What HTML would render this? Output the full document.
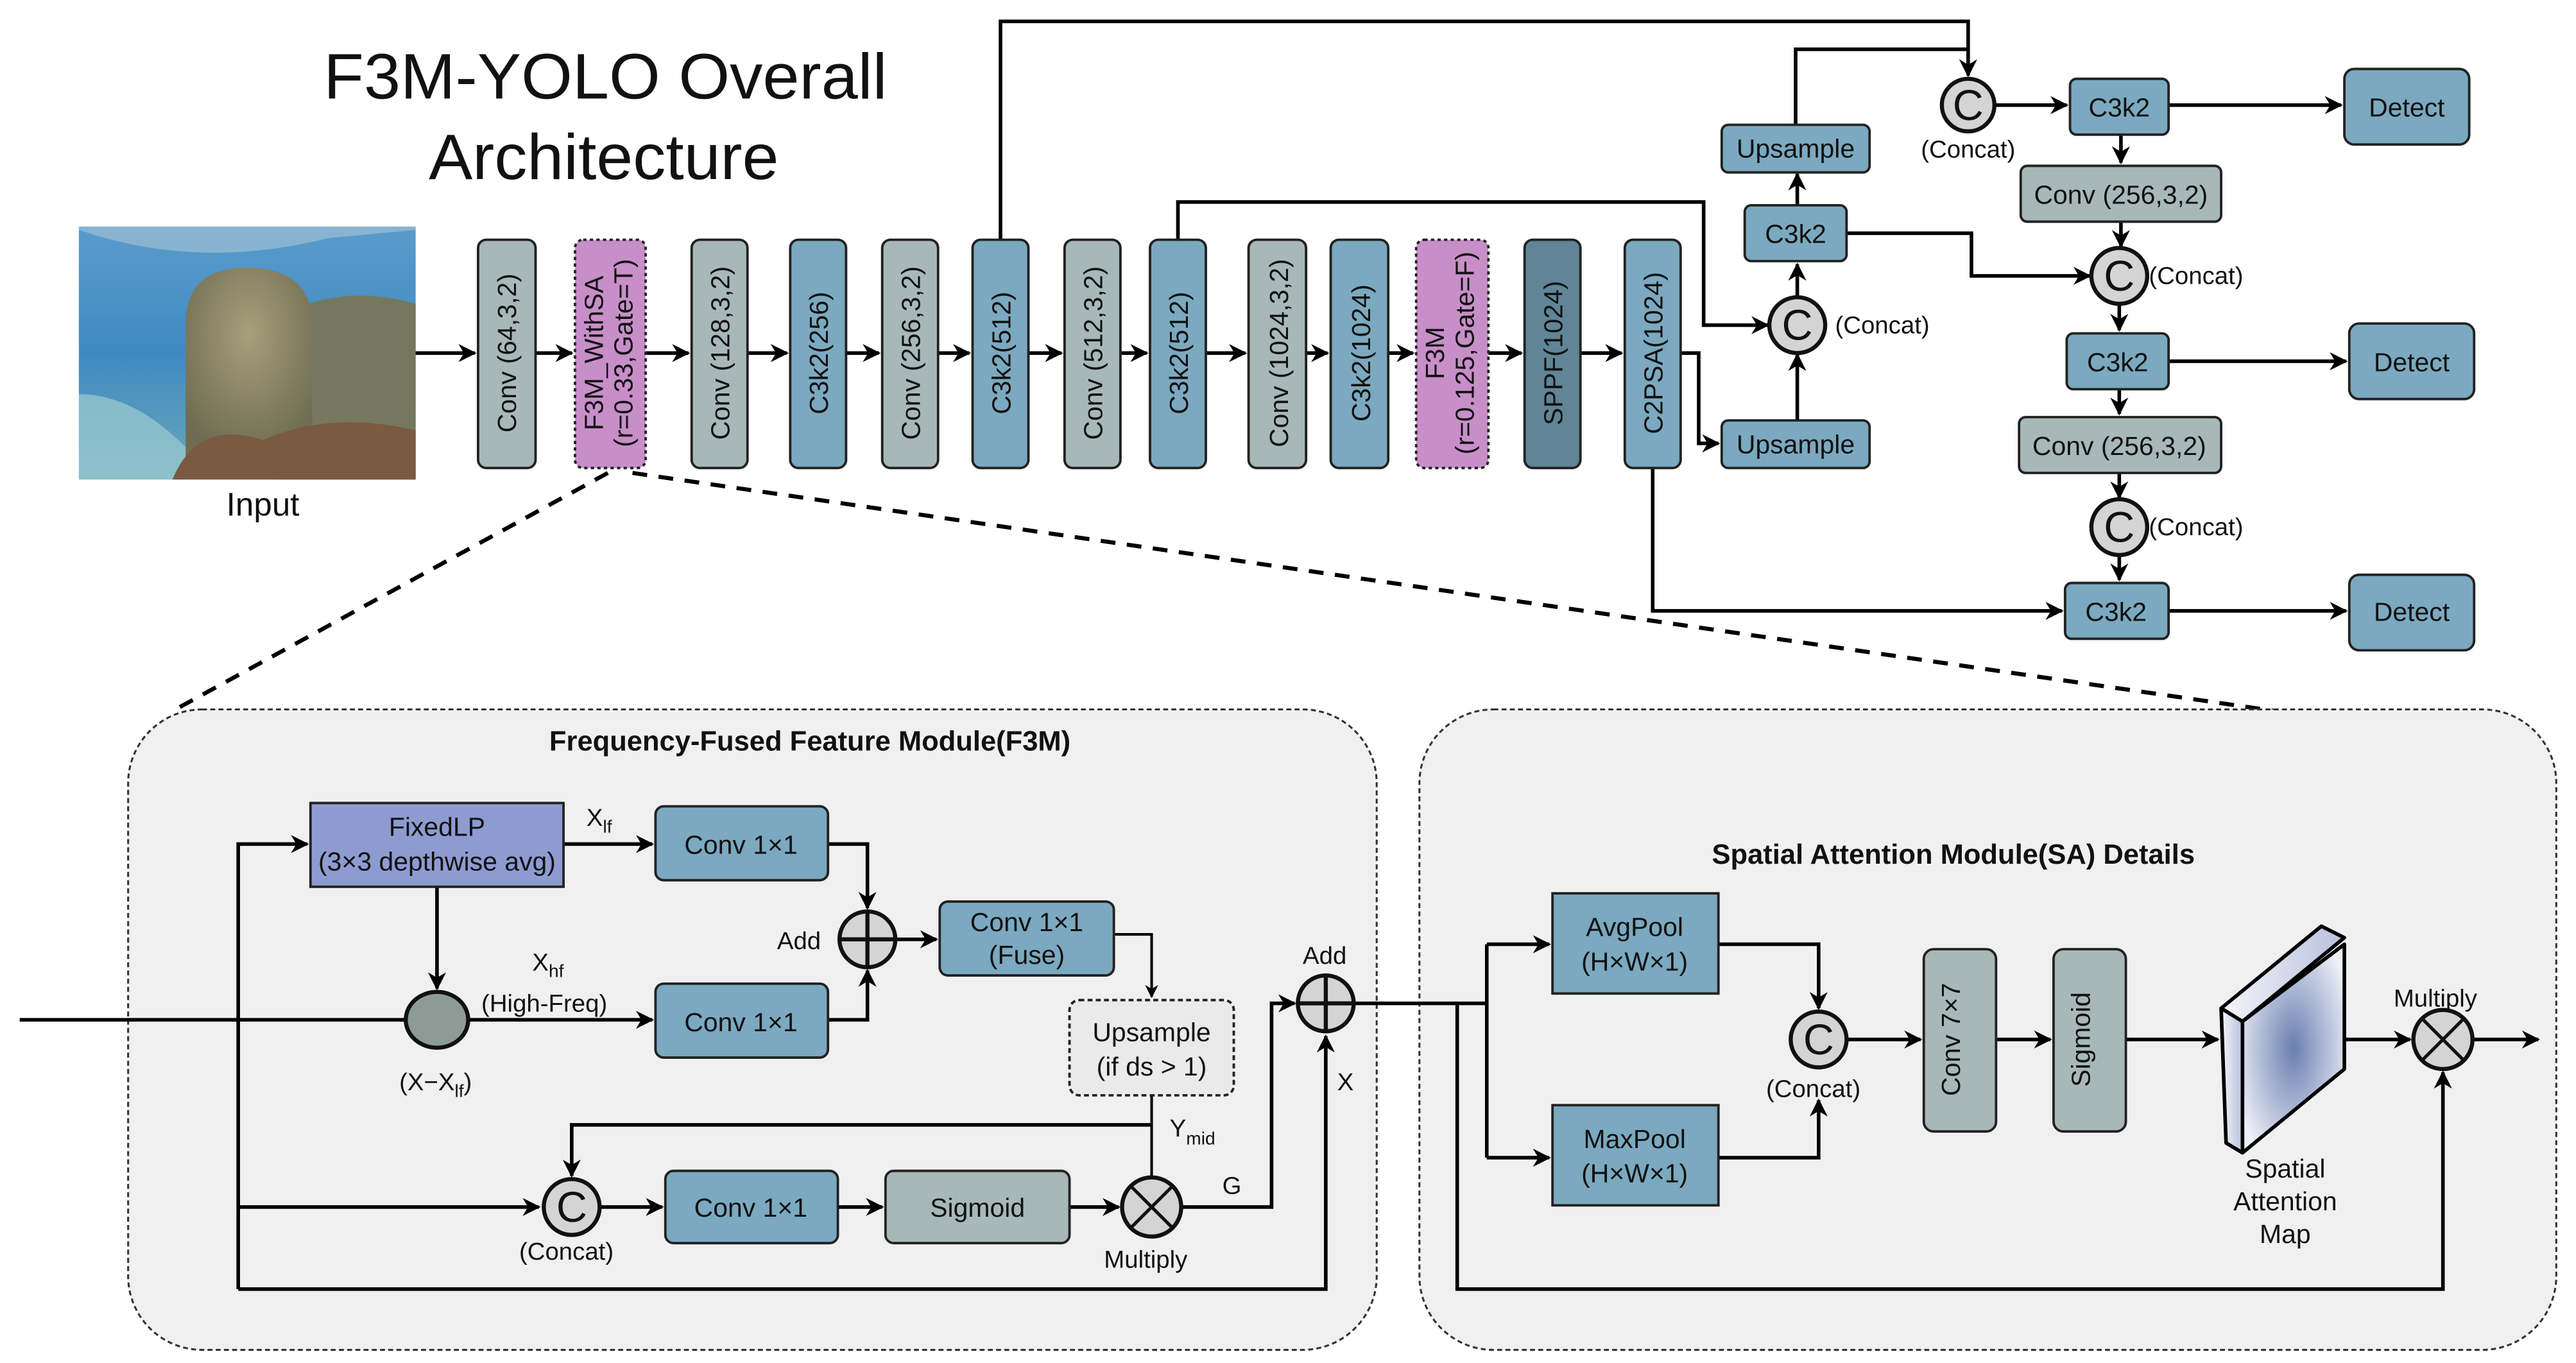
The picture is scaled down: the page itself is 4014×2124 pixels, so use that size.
<!DOCTYPE html>
<html><head><meta charset="utf-8"><style>
html,body{margin:0;padding:0;background:#fff;}
svg{display:block;}
text{font-family:"Liberation Sans",Arial,sans-serif;fill:#111;}
</style></head><body>
<svg width="4014" height="2124" viewBox="0 0 1568 830" preserveAspectRatio="none" xmlns="http://www.w3.org/2000/svg">
<defs>
<marker id="a" viewBox="0 0 10 10" refX="9" refY="5" markerWidth="5" markerHeight="5" orient="auto-start-reverse"><path d="M0,0 L10,5 L0,10 L3,5 z" fill="#000"/></marker>
<radialGradient id="map" cx="0.5" cy="0.5" r="0.6"><stop offset="0" stop-color="#6a7fb0"/><stop offset="1" stop-color="#eef0f8"/></radialGradient>
<linearGradient id="side" x1="0" x2="1"><stop offset="0" stop-color="#f4f5fa"/><stop offset="1" stop-color="#b8c0dc"/></linearGradient>
<linearGradient id="sea" x1="0" y1="0" x2="0" y2="1"><stop offset="0" stop-color="#5a9ccc"/><stop offset="0.5" stop-color="#3f8ac2"/><stop offset="1" stop-color="#6aa8b8"/></linearGradient>
<radialGradient id="rock" cx="0.5" cy="0.35" r="0.65"><stop offset="0" stop-color="#a89e7a"/><stop offset="1" stop-color="#6e6c52"/></radialGradient>
</defs>

<!-- Title -->
<text x="197" y="60" font-size="39" textLength="343" lengthAdjust="spacingAndGlyphs">F3M-YOLO Overall</text>
<text x="261" y="109" font-size="39" textLength="213" lengthAdjust="spacingAndGlyphs">Architecture</text>

<!-- Input image -->
<rect x="48" y="138" width="205" height="154" fill="url(#sea)"/>
<path d="M48,140 Q120,165 200,145 L253,140 L253,138 L48,138 Z" fill="#a8c4d4" opacity="0.6"/>
<path d="M160,200 Q200,170 253,185 L253,292 L170,292 Z" fill="#75785e"/>
<path d="M48,240 Q90,240 130,292 L48,292 Z" fill="#9ccad0" opacity="0.7"/>
<path d="M113,280 L113,198 Q113,163 150,163 Q190,163 190,198 L190,280 Z" fill="url(#rock)"/>
<path d="M105,292 Q120,255 160,268 Q200,250 253,262 L253,292 Z" fill="#7a5a40"/>
<text x="160" y="314" font-size="20" text-anchor="middle">Input</text>

<g stroke="#000" stroke-width="2.2" fill="none">
<line x1="253" y1="215" x2="289" y2="215" marker-end="url(#a)"/>
<line x1="326" y1="215" x2="348" y2="215" marker-end="url(#a)"/>
<line x1="393" y1="215" x2="419" y2="215" marker-end="url(#a)"/>
<line x1="455" y1="215" x2="479" y2="215" marker-end="url(#a)"/>
<line x1="515" y1="215" x2="535" y2="215" marker-end="url(#a)"/>
<line x1="571" y1="215" x2="590" y2="215" marker-end="url(#a)"/>
<line x1="626" y1="215" x2="646" y2="215" marker-end="url(#a)"/>
<line x1="682" y1="215" x2="698" y2="215" marker-end="url(#a)"/>
<line x1="734" y1="215" x2="758" y2="215" marker-end="url(#a)"/>
<line x1="795" y1="215" x2="808" y2="215" marker-end="url(#a)"/>
<line x1="845" y1="215" x2="860" y2="215" marker-end="url(#a)"/>
<line x1="906" y1="215" x2="926" y2="215" marker-end="url(#a)"/>
<line x1="962" y1="215" x2="987" y2="215" marker-end="url(#a)"/>
<polyline points="609,146 609,13 1198,13 1198,46" marker-end="url(#a)"/>
<polyline points="1093,76 1093,30 1198,30"/>
<polyline points="717,146 717,123 1037,123 1037,198 1076,198" marker-end="url(#a)"/>
<polyline points="1023,215 1034,215 1034,270 1046,270" marker-end="url(#a)"/>
<polyline points="1006,285 1006,372 1255,372" marker-end="url(#a)"/>
<line x1="1094" y1="256" x2="1094" y2="216" marker-end="url(#a)"/>
<line x1="1094" y1="181" x2="1094" y2="161" marker-end="url(#a)"/>
<line x1="1094" y1="125" x2="1094" y2="106" marker-end="url(#a)"/>
<polyline points="1124,142 1200,142 1200,168 1272,168" marker-end="url(#a)"/>
<line x1="1214" y1="64" x2="1258" y2="64" marker-end="url(#a)"/>
<line x1="1320" y1="64" x2="1425" y2="64" marker-end="url(#a)"/>
<line x1="1291" y1="82" x2="1291" y2="99" marker-end="url(#a)"/>
<line x1="1291" y1="135" x2="1291" y2="150" marker-end="url(#a)"/>
<line x1="1290" y1="186" x2="1290" y2="201" marker-end="url(#a)"/>
<line x1="1320" y1="220" x2="1428" y2="220" marker-end="url(#a)"/>
<line x1="1290" y1="237" x2="1290" y2="252" marker-end="url(#a)"/>
<line x1="1290" y1="288" x2="1290" y2="303" marker-end="url(#a)"/>
<line x1="1290" y1="339" x2="1290" y2="353" marker-end="url(#a)"/>
<line x1="1320" y1="372" x2="1428" y2="372" marker-end="url(#a)"/>
</g>

<g stroke="#000" stroke-width="2.5" stroke-dasharray="9,7" fill="none">
<line x1="370" y1="288" x2="105" y2="433"/>
<line x1="385" y1="288" x2="1385" y2="433"/>
</g>

<g stroke="#222" stroke-width="1.5">
<rect x="291" y="146" width="35" height="139" rx="5" fill="#a8b8b9"/>
<rect x="350" y="146" width="43" height="139" rx="5" fill="#c88ec8" stroke-dasharray="2,2"/>
<rect x="421" y="146" width="34" height="139" rx="5" fill="#a8b8b9"/>
<rect x="481" y="146" width="34" height="139" rx="5" fill="#7ba9c0"/>
<rect x="537" y="146" width="34" height="139" rx="5" fill="#a8b8b9"/>
<rect x="592" y="146" width="34" height="139" rx="5" fill="#7ba9c0"/>
<rect x="648" y="146" width="34" height="139" rx="5" fill="#a8b8b9"/>
<rect x="700" y="146" width="34" height="139" rx="5" fill="#7ba9c0"/>
<rect x="760" y="146" width="35" height="139" rx="5" fill="#a8b8b9"/>
<rect x="810" y="146" width="35" height="139" rx="5" fill="#7ba9c0"/>
<rect x="862" y="146" width="44" height="139" rx="5" fill="#c88ec8" stroke-dasharray="2,2"/>
<rect x="928" y="146" width="34" height="139" rx="5" fill="#5f8596"/>
<rect x="989" y="146" width="34" height="139" rx="5" fill="#7ba9c0"/>
<rect x="1048" y="76" width="90" height="29" rx="4" fill="#7ba9c0"/>
<rect x="1062" y="125" width="62" height="34" rx="4" fill="#7ba9c0"/>
<rect x="1048" y="256" width="90" height="29" rx="4" fill="#7ba9c0"/>
<rect x="1260" y="48" width="60" height="34" rx="4" fill="#7ba9c0"/>
<rect x="1427" y="42" width="76" height="46" rx="6" fill="#7ba9c0"/>
<rect x="1230" y="101" width="122" height="34" rx="4" fill="#a8b8b9"/>
<rect x="1258" y="203" width="62" height="34" rx="4" fill="#7ba9c0"/>
<rect x="1430" y="197" width="76" height="46" rx="6" fill="#7ba9c0"/>
<rect x="1229" y="254" width="123" height="34" rx="4" fill="#a8b8b9"/>
<rect x="1257" y="355" width="63" height="34" rx="4" fill="#7ba9c0"/>
<rect x="1430" y="350" width="76" height="46" rx="6" fill="#7ba9c0"/>
</g>
<g stroke="#111" stroke-width="2.5" fill="#d4d4d4">
<circle cx="1198" cy="64" r="16"/>
<circle cx="1094" cy="198" r="17"/>
<circle cx="1290" cy="168" r="17"/>
<circle cx="1290" cy="321" r="17"/>
</g>
<g font-size="26" text-anchor="middle">
<text x="1198" y="73">C</text><text x="1094" y="207">C</text><text x="1290" y="177">C</text><text x="1290" y="330">C</text>
</g>
<g font-size="15">
<text x="1198" y="96" text-anchor="middle">(Concat)</text>
<text x="1117" y="203">(Concat)</text>
<text x="1308" y="173">(Concat)</text>
<text x="1308" y="326">(Concat)</text>
</g>
<g font-size="16" text-anchor="middle">
<text x="1093" y="96">Upsample</text>
<text x="1093" y="148">C3k2</text>
<text x="1093" y="276">Upsample</text>
<text x="1290" y="71">C3k2</text>
<text x="1465" y="71">Detect</text>
<text x="1291" y="124">Conv (256,3,2)</text>
<text x="1289" y="226">C3k2</text>
<text x="1468" y="226">Detect</text>
<text x="1290" y="277">Conv (256,3,2)</text>
<text x="1288" y="378">C3k2</text>
<text x="1468" y="378">Detect</text>
</g>
<g font-size="16" text-anchor="middle">
<text transform="translate(314,215) rotate(-90)">Conv (64,3,2)</text>
<text transform="translate(367,215) rotate(-90)">F3M_WithSA</text>
<text transform="translate(385,215) rotate(-90)">(r=0.33,Gate=T)</text>
<text transform="translate(444,215) rotate(-90)">Conv (128,3,2)</text>
<text transform="translate(504,215) rotate(-90)">C3k2(256)</text>
<text transform="translate(560,215) rotate(-90)">Conv (256,3,2)</text>
<text transform="translate(615,215) rotate(-90)">C3k2(512)</text>
<text transform="translate(671,215) rotate(-90)">Conv (512,3,2)</text>
<text transform="translate(723,215) rotate(-90)">C3k2(512)</text>
<text transform="translate(784,215) rotate(-90)">Conv (1024,3,2)</text>
<text transform="translate(834,215) rotate(-90)">C3k2(1024)</text>
<text transform="translate(879,215) rotate(-90)">F3M</text>
<text transform="translate(897,215) rotate(-90)">(r=0.125,Gate=F)</text>
<text transform="translate(951,215) rotate(-90)">SPPF(1024)</text>
<text transform="translate(1012,215) rotate(-90)">C2PSA(1024)</text>
</g>

<rect x="78" y="432" width="760" height="390" rx="45" fill="#f0f0f0" stroke="#333" stroke-width="1.2" stroke-dasharray="3,2"/>
<rect x="864" y="432" width="692" height="390" rx="45" fill="#f0f0f0" stroke="#333" stroke-width="1.2" stroke-dasharray="3,2"/>
<text x="493" y="457" font-size="17" font-weight="bold" text-anchor="middle">Frequency-Fused Feature Module(F3M)</text>
<text x="1189" y="526" font-size="17" font-weight="bold" text-anchor="middle">Spatial Attention Module(SA) Details</text>

<g stroke="#000" stroke-width="2.2" fill="none">
<line x1="12" y1="621" x2="397" y2="621" marker-end="url(#a)"/>
<polyline points="145,785 145,514 187,514" marker-end="url(#a)"/>
<line x1="145" y1="735" x2="328" y2="735" marker-end="url(#a)"/>
<polyline points="145,785 807,785 807,631" marker-end="url(#a)"/>
<line x1="266" y1="540" x2="266" y2="602" marker-end="url(#a)"/>
<line x1="343" y1="514" x2="397" y2="514" marker-end="url(#a)"/>
<polyline points="504,514 528,514 528,553" marker-end="url(#a)"/>
<polyline points="504,621 528,621 528,591" marker-end="url(#a)"/>
<line x1="545" y1="572" x2="570" y2="572" marker-end="url(#a)"/>
<polyline points="678,569 701,569 701,607" marker-end="url(#a)" stroke-width="1.6"/>
<line x1="701" y1="667" x2="701" y2="717" stroke-width="1.6"/>
<polyline points="701,685 348,685 348,716" marker-end="url(#a)"/>
<line x1="366" y1="735" x2="403" y2="735" marker-end="url(#a)"/>
<line x1="510" y1="735" x2="537" y2="735" marker-end="url(#a)"/>
<line x1="651" y1="735" x2="681" y2="735" marker-end="url(#a)"/>
<polyline points="719,735 774,735 774,611 788,611" marker-end="url(#a)"/>
<line x1="824" y1="611" x2="905" y2="611"/>
<polyline points="887,611 887,785 1487,785 1487,653" marker-end="url(#a)"/>
<polyline points="905,575 905,705"/>
<line x1="905" y1="575" x2="943" y2="575" marker-end="url(#a)"/>
<line x1="905" y1="705" x2="943" y2="705" marker-end="url(#a)"/>
<polyline points="1046,575 1107,575 1107,614" marker-end="url(#a)"/>
<polyline points="1046,705 1107,705 1107,670" marker-end="url(#a)"/>
<line x1="1124" y1="633" x2="1169" y2="633" marker-end="url(#a)"/>
<line x1="1215" y1="633" x2="1248" y2="633" marker-end="url(#a)"/>
<line x1="1294" y1="633" x2="1350" y2="633" marker-end="url(#a)"/>
<line x1="1427" y1="633" x2="1467" y2="633" marker-end="url(#a)"/>
<line x1="1505" y1="633" x2="1545" y2="633" marker-end="url(#a)"/>
</g>

<g stroke="#222" stroke-width="1.5">
<rect x="189" y="489" width="154" height="51" fill="#8e9bd1"/>
<rect x="399" y="491" width="105" height="45" rx="5" fill="#7ba9c0"/>
<rect x="399" y="599" width="105" height="45" rx="5" fill="#7ba9c0"/>
<rect x="572" y="549" width="106" height="45" rx="5" fill="#7ba9c0"/>
<rect x="651" y="609" width="100" height="58" rx="6" fill="#eaeaea" stroke-dasharray="3,2"/>
<rect x="405" y="713" width="105" height="44" rx="5" fill="#7ba9c0"/>
<rect x="539" y="713" width="112" height="44" rx="5" fill="#a8b8b9"/>
<rect x="945" y="544" width="101" height="61" fill="#7ba9c0"/>
<rect x="945" y="673" width="101" height="61" fill="#7ba9c0"/>
<rect x="1171" y="578" width="44" height="111" rx="6" fill="#a8b8b9"/>
<rect x="1250" y="578" width="44" height="111" rx="6" fill="#a8b8b9"/>
</g>
<g stroke="#111" stroke-width="2.5">
<ellipse cx="266" cy="621" rx="19" ry="17" fill="#8d9b97"/>
<circle cx="528" cy="572" r="17" fill="#d4d4d4"/>
<line x1="511" y1="572" x2="545" y2="572"/><line x1="528" y1="555" x2="528" y2="589"/>
<circle cx="807" cy="611" r="17" fill="#d4d4d4"/>
<line x1="790" y1="611" x2="824" y2="611"/><line x1="807" y1="594" x2="807" y2="628"/>
<circle cx="348" cy="735" r="17" fill="#d4d4d4"/>
<circle cx="701" cy="735" r="18" fill="#d4d4d4"/>
<line x1="688" y1="722" x2="714" y2="748" stroke-width="2"/><line x1="714" y1="722" x2="688" y2="748" stroke-width="2"/>
<circle cx="1107" cy="633" r="17" fill="#d4d4d4"/>
<circle cx="1487" cy="633" r="18" fill="#d4d4d4"/>
<line x1="1474" y1="620" x2="1500" y2="646" stroke-width="2"/><line x1="1500" y1="620" x2="1474" y2="646" stroke-width="2"/>
</g>
<text x="348" y="744" font-size="26" text-anchor="middle">C</text>
<text x="1107" y="642" font-size="26" text-anchor="middle">C</text>

<g stroke="#000" stroke-width="2.2" stroke-linejoin="round">
<polygon points="1352,614 1413,564 1427,571 1365,622" fill="url(#side)"/>
<polygon points="1352,614 1365,622 1365,702 1355,696" fill="url(#side)"/>
<polygon points="1365,622 1427,575 1427,651 1365,702" fill="url(#map)"/>
</g>

<g font-size="16" text-anchor="middle">
<text x="266" y="509">FixedLP</text>
<text x="266" y="530">(3×3 depthwise avg)</text>
<text x="451" y="520">Conv 1×1</text>
<text x="451" y="628">Conv 1×1</text>
<text x="625" y="567">Conv 1×1</text>
<text x="625" y="587">(Fuse)</text>
<text x="701" y="634">Upsample</text>
<text x="701" y="655">(if ds &gt; 1)</text>
<text x="457" y="741">Conv 1×1</text>
<text x="595" y="741">Sigmoid</text>
<text x="995" y="570">AvgPool</text>
<text x="995" y="591">(H×W×1)</text>
<text x="995" y="699">MaxPool</text>
<text x="995" y="720">(H×W×1)</text>
<text transform="translate(1193,633) rotate(-90)" font-size="16">Conv 7×7</text>
<text transform="translate(1272,633) rotate(-90)" font-size="16">Sigmoid</text>
<text x="1391" y="717" font-size="16">Spatial</text>
<text x="1391" y="737" font-size="16">Attention</text>
<text x="1391" y="757" font-size="16">Map</text>
</g>
<g font-size="15">
<text x="357" y="503">X<tspan font-size="11" dy="4">lf</tspan></text>
<text x="324" y="591">X<tspan font-size="11" dy="4">hf</tspan></text>
<text x="293" y="616">(High-Freq)</text>
<text x="243" y="664">(X−X<tspan font-size="11" dy="4">lf</tspan><tspan dy="-4">)</tspan></text>
<text x="473" y="578">Add</text>
<text x="793" y="587">Add</text>
<text x="814" y="664">X</text>
<text x="712" y="692">Y<tspan font-size="11" dy="5">mid</tspan></text>
<text x="744" y="727">G</text>
<text x="672" y="772">Multiply</text>
<text x="316" y="767">(Concat)</text>
<text x="1075" y="668">(Concat)</text>
<text x="1457" y="613">Multiply</text>
</g>
</svg>
</body></html>
